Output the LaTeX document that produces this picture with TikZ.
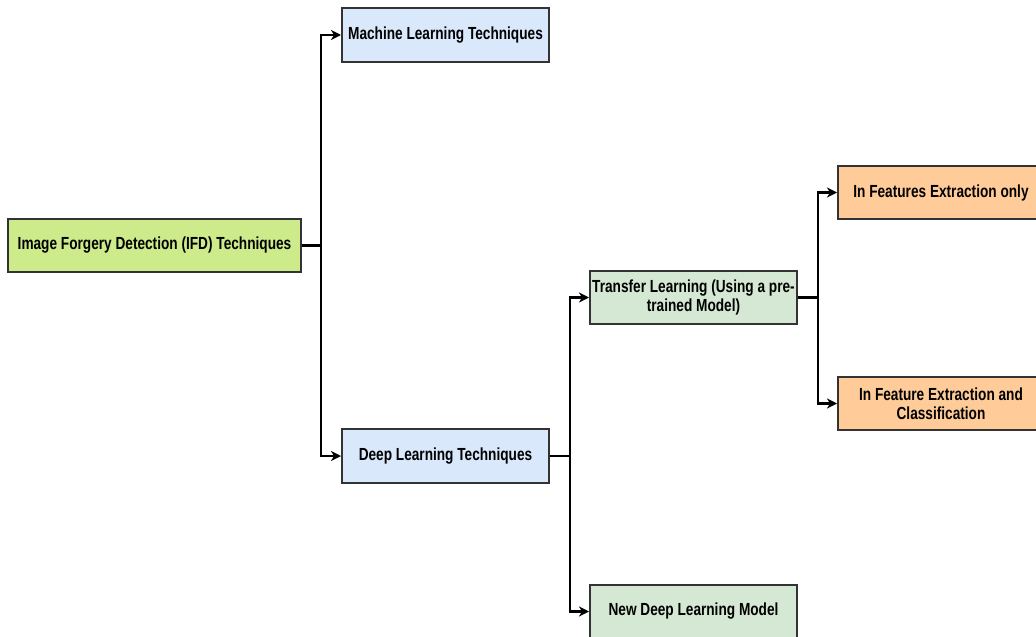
\documentclass[tikz,border=0pt]{standalone}
\usepackage{fontspec}
\setmainfont{Liberation Sans}[FakeStretch=0.78]
\usepackage{xcolor}
\usepackage{tikz}
\usetikzlibrary{shapes.geometric, arrows, arrows.meta}
\definecolor{ifdgreen}{HTML}{CDEB8B}
\definecolor{techblue}{HTML}{DAE8FC}
\definecolor{learngreen}{HTML}{D5E8D4}
\definecolor{useorange}{HTML}{FFCC99}
\tikzstyle{arrow} = [line width=2.2pt,->,>={Stealth[length=10pt,width=10pt,inset=3pt]}]
\tikzstyle{box} = [draw=black!80, line width=2pt, align=center, inner sep=0pt,
  font=\bfseries\fontsize{17.5}{19}\selectfont]

\begin{document}
\begin{tikzpicture}[x=1pt,y=-1pt]
	\useasboundingbox (0,0) rectangle (1036,637);
	\begin{scope}
		
		% Boxes:
		% Placed at their centres, sizes given in points
		\node[box, fill=ifdgreen, minimum width=293, minimum height=53] (ifd) at (154.5,245.5) {Image Forgery Detection (IFD) Techniques};
		\node[box, fill=techblue, minimum width=207, minimum height=54] (ml) at (445.5,35) {Machine Learning Techniques};
		\node[box, fill=techblue, minimum width=207, minimum height=54] (dl) at (445.5,456) {Deep Learning Techniques};
		\node[box, fill=learngreen, minimum width=207, minimum height=53] (tl) at (693.5,297.5) {Transfer Learning (Using a pre-\\trained Model)};
		\node[box, fill=learngreen, minimum width=207, minimum height=53] (ndl) at (693.5,611.5) {New Deep Learning Model};
		\node[box, fill=useorange, minimum width=206, minimum height=53] (fe) at (941,192.5) {In Features Extraction only};
		\node[box, fill=useorange, minimum width=206, minimum height=53] (fec) at (941,403.5) {In Feature Extraction and\\Classification};
		
		% Connectors:
		% Elbow lines from the right edge of the parent to the left edge of each child
		\draw[arrow] (ifd.east) -- ++(19,0) |- (ml.west);
		\draw[arrow] (ifd.east) -- ++(19,0) |- (dl.west);
		
		\draw[arrow] (dl.east) -- ++(20,0) |- (tl.west);
		\draw[arrow] (dl.east) -- ++(20,0) |- (ndl.west);
		
		\draw[arrow] (tl.east) -- ++(20,0) |- (fe.west);
		\draw[arrow] (tl.east) -- ++(20,0) |- (fec.west);
		
	\end{scope}
\end{tikzpicture}
\end{document}
